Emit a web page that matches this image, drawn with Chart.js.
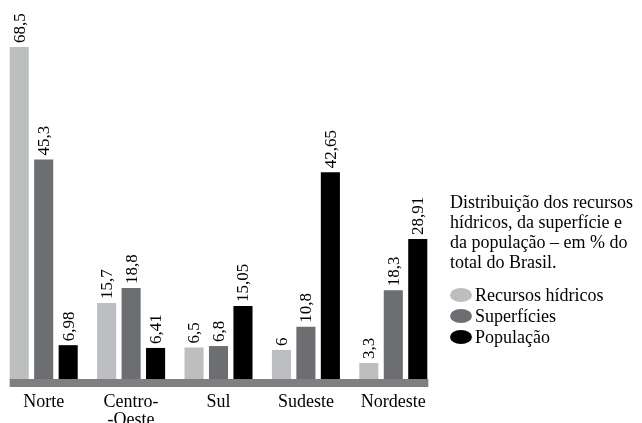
<!DOCTYPE html>
<html>
<head>
<meta charset="utf-8">
<script src="https://cdn.jsdelivr.net/npm/chart.js@4/dist/chart.umd.min.js"></script>
<style>
  body { margin: 0; background: #fff; }
  #wrap { position: relative; width: 642px; height: 423px; overflow: hidden; }
  #info {
    position: absolute; left: 450px; top: 192px;
    font-family: "Liberation Serif", serif; font-size: 18px; line-height: 20px; color: #000;
  }
  #legend { margin-top: 13px; }
  .item { height: 21px; line-height: 21px; white-space: nowrap; }
  .dot { display: inline-block; width: 22px; height: 14px; border-radius: 50%; vertical-align: -1px; margin-right: 3px; }
</style>
</head>
<body>
<div id="wrap">
  <canvas id="regioesChart" width="642" height="423"></canvas>
  <div id="info">
    Distribuição dos recursos<br>
    hídricos, da superfície e<br>
    da população – em % do<br>
    total do Brasil.
    <div id="legend"></div>
  </div>
</div>
<script>
// regions (Centro-Oeste split in two lines like the original)
const regioes = ['Norte', ['Centro-', '-Oeste'], 'Sul', 'Sudeste', 'Nordeste'];

// % of Brazil total
const recursosHidricos = [68.5, 15.7, 6.5, 6, 3.3];
const superficies = [45.3, 18.8, 6.8, 10.8, 18.3];
const populacao = [6.98, 6.41, 15.05, 42.65, 28.91];

const serieNomes = ['Recursos hídricos', 'Superfícies', 'População'];
const serieCores = ['#bcbec0', '#6d6e71', '#000000'];

// thick gray base line under the bars
const baseLine = {
    id: 'baseLine',
    afterDatasetsDraw(chart) {
        const ctx = chart.ctx;
        const first = chart.getDatasetMeta(0).data[0];
        const lastMeta = chart.getDatasetMeta(chart.data.datasets.length - 1);
        const last = lastMeta.data[lastMeta.data.length - 1];
        const x1 = first.x - first.width / 2;
        const x2 = last.x + last.width / 2 + 1;
        ctx.save();
        ctx.fillStyle = '#7f7f81';
        ctx.fillRect(x1, chart.chartArea.bottom, x2 - x1, 8);
        ctx.restore();
    }
};

// vertical value labels above each bar
const valueLabels = {
    id: 'valueLabels',
    afterDatasetsDraw(chart) {
        const ctx = chart.ctx;
        ctx.save();
        ctx.font = '17px "Liberation Serif", serif';
        ctx.fillStyle = '#000';
        ctx.textAlign = 'left';
        ctx.textBaseline = 'middle';
        chart.data.datasets.forEach(function (ds, i) {
            chart.getDatasetMeta(i).data.forEach(function (bar, j) {
                const txt = String(ds.data[j]).replace('.', ',');
                ctx.save();
                ctx.translate(bar.x + 1, bar.y - 4);
                ctx.rotate(-Math.PI / 2);
                ctx.fillText(txt, 0, 0);
                ctx.restore();
            });
        });
        ctx.restore();
    }
};

const ctx = document.getElementById('regioesChart').getContext('2d');
const chart = new Chart(ctx, {
    type: 'bar',
    data: {
        labels: regioes,
        datasets: [recursosHidricos, superficies, populacao].map(function (vals, i) {
            return {
                label: serieNomes[i],
                data: vals,
                backgroundColor: serieCores[i],
                categoryPercentage: 0.84,
                barPercentage: 0.78
            };
        })
    },
    options: {
        responsive: false,
        animation: false,
        layout: { padding: { left: 0, right: 205, top: 0, bottom: 0 } },
        plugins: {
            legend: { display: false },
            tooltip: { enabled: false }
        },
        scales: {
            x: {
                grid: { display: false },
                border: { display: false },
                ticks: {
                    color: '#000',
                    font: { family: '"Liberation Serif", serif', size: 18, lineHeight: 1 },
                    padding: 6,
                    maxRotation: 0,
                    autoSkip: false
                },
                afterFit: function (scale) { scale.height = 44; }
            },
            y: {
                display: false,
                min: 0,
                max: 78.2
            }
        }
    },
    plugins: [baseLine, valueLabels]
});

// html legend built from the datasets
const legendEl = document.getElementById('legend');
chart.data.datasets.forEach(function (ds) {
    const item = document.createElement('div');
    item.className = 'item';
    const dot = document.createElement('span');
    dot.className = 'dot';
    dot.style.background = ds.backgroundColor;
    item.appendChild(dot);
    item.appendChild(document.createTextNode(ds.label));
    legendEl.appendChild(item);
});
</script>
</body>
</html>
